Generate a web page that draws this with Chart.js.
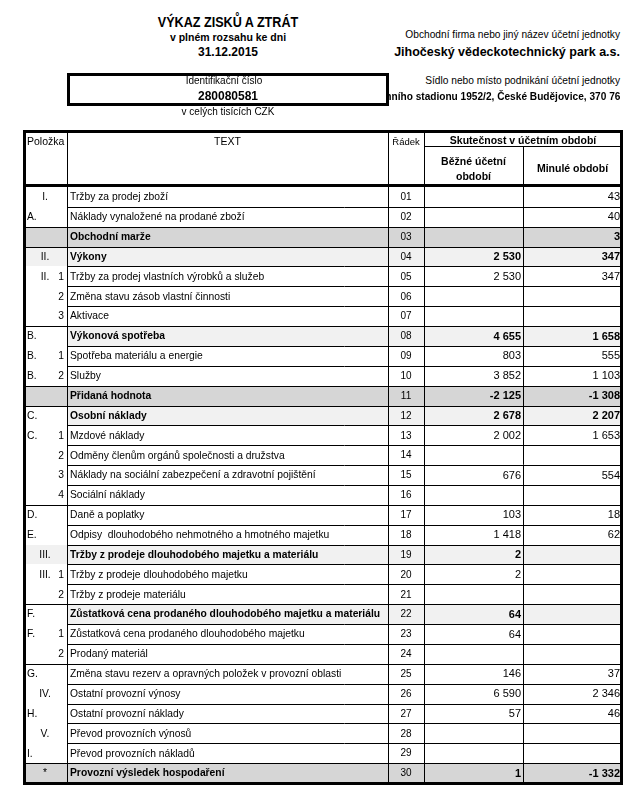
<!DOCTYPE html>
<html lang="cs">
<head>
<meta charset="utf-8">
<title>Výkaz zisků a ztrát</title>
<script src="https://cdn.jsdelivr.net/npm/chart.js@4.4.0/dist/chart.umd.min.js"></script>
<style>
    html, body { margin: 0; padding: 0; background: #fff; }
    body { width: 644px; height: 808px; position: relative; overflow: hidden;
           font-family: "Liberation Sans", Arial, sans-serif; color: #000; }
    #vykaz { position: absolute; left: 0; top: 0; z-index: 0; }
    .t { position: absolute; white-space: nowrap; line-height: 1; }
    .left { left: 0; width: 456px; text-align: center; }
    .right { right: 24px; text-align: right; transform-origin: right center; }
    .b { font-weight: bold; }
    #icoBox { position: absolute; left: 67px; top: 73px; width: 316px; height: 27px;
              border: 3px solid #000; background: #fff; z-index: 2; }
</style>
</head>
<body>

<div class="t left b" style="top:15px;font-size:14px;transform:scaleX(0.9);">VÝKAZ ZISKŮ A ZTRÁT</div>
<div class="t left b" style="top:32px;font-size:10.5px;">v plném rozsahu ke dni</div>
<div class="t left b" style="top:46px;font-size:12px;">31.12.2015</div>

<div class="t right" style="top:30px;font-size:10.2px;">Obchodní firma nebo jiný název účetní jednotky</div>
<div class="t right b" style="top:46px;font-size:12.5px;">Jihočeský vědeckotechnický park a.s.</div>
<div class="t right" style="top:76px;font-size:10.2px;">Sídlo nebo místo podnikání účetní jednotky</div>
<div class="t right b" style="top:91px;font-size:11px;z-index:1;transform:scaleX(0.92);">U Zimního stadionu 1952/2, České Budějovice, 370 76</div>

<div id="icoBox"></div>
<div class="t left" style="top:76px;font-size:10px;z-index:3;left:-4px;">Identifikační číslo</div>
<div class="t left b" style="top:90px;font-size:12px;z-index:3;">280080581</div>
<div class="t left" style="top:107px;font-size:10px;z-index:3;">v celých tisících CZK</div>

<canvas id="vykaz" width="644" height="808"></canvas>

<script>
// ---- data read from the statement ----
const rowCodes = ['01', '02', '03', '04', '05', '06', '07', '08', '09', '10',
    '11', '12', '13', '14', '15', '16', '17', '18', '19', '20',
    '21', '22', '23', '24', '25', '26', '27', '28', '29', '30'];

const letterCodes = ['', 'A.', '', '', '', '', '', 'B.', 'B.', 'B.',
    '', 'C.', 'C.', '', '', '', 'D.', 'E.', '', '',
    '', 'F.', 'F.', '', 'G.', '', 'H.', '', 'I.', ''];

const romanCodes = ['I.', '', '', 'II.', 'II.', '', '', '', '', '',
    '', '', '', '', '', '', '', '', 'III.', 'III.',
    '', '', '', '', '', 'IV.', '', 'V.', '', '*'];

const subCodes = ['', '', '', '', '1', '2', '3', '', '1', '2',
    '', '', '1', '2', '3', '4', '', '', '', '1',
    '2', '', '1', '2', '', '', '', '', '', ''];

const rowTexts = [
    'Tržby za prodej zboží',
    'Náklady vynaložené na prodané zboží',
    'Obchodní marže',
    'Výkony',
    'Tržby za prodej vlastních výrobků a služeb',
    'Změna stavu zásob vlastní činnosti',
    'Aktivace',
    'Výkonová spotřeba',
    'Spotřeba materiálu a energie',
    'Služby',
    'Přidaná hodnota',
    'Osobní náklady',
    'Mzdové náklady',
    'Odměny členům orgánů společnosti a družstva',
    'Náklady na sociální zabezpečení a zdravotní pojištění',
    'Sociální náklady',
    'Daně a poplatky',
    'Odpisy  dlouhodobého nehmotného a hmotného majetku',
    'Tržby z prodeje dlouhodobého majetku a materiálu',
    'Tržby z prodeje dlouhodobého majetku',
    'Tržby z prodeje materiálu',
    'Zůstatková cena prodaného dlouhodobého majetku a materiálu',
    'Zůstatková cena prodaného dlouhodobého majetku',
    'Prodaný materiál',
    'Změna stavu rezerv a opravných položek v provozní oblasti',
    'Ostatní provozní výnosy',
    'Ostatní provozní náklady',
    'Převod provozních výnosů',
    'Převod provozních nákladů',
    'Provozní výsledek hospodaření'
];

// 'total' = result row, 'group' = group heading row
const rowKinds = ['', '', 'total', 'group', '', '', '', 'group', '', '',
    'total', 'group', '', '', '', '', '', '', 'group', '',
    '', 'group', '', '', '', '', '', '', '', 'total'];

// thousands of CZK
const currentPeriod = [null, null, null, 2530, 2530, null, null, 4655, 803, 3852,
    -2125, 2678, 2002, null, 676, null, 103, 1418, 2, 2,
    null, 64, 64, null, 146, 6590, 57, null, null, 1];

const previousPeriod = [43, 40, 3, 347, 347, null, null, 1658, 555, 1103,
    -1308, 2207, 1653, null, 554, null, 18, 62, null, null,
    null, null, null, null, 37, 2346, 46, null, null, -1332];

const headerLabels = {
    polozka: 'Položka',
    text: 'TEXT',
    radek: 'Řádek',
    period: 'Skutečnost v účetním období',
    current: ['Běžné účetní', 'období'],
    previous: 'Minulé období'
};

// ---- layout (page pixels) ----
const TABLE_TOP = 131;
const HEAD_SPLIT = 146;
const COL = { left: 24, text: 67, radek: 388, current: 424, previous: 523, right: 622 };
const FONT = '"Liberation Sans", Arial, sans-serif';
const DARK_FILL = '#d6d6d6';
const LIGHT_FILL = '#f1f1f1';

function formatCzk(v) {
    const s = String(Math.abs(v)).replace(/\B(?=(\d{3})+(?!\d))/g, ' ');
    return (v < 0 ? '-' : '') + s;
}

function toPoints(values, colRight) {
    const pts = [];
    values.forEach(function (v, i) {
        if (v !== null) pts.push({ x: colRight, y: rowCodes[i], v: v, row: i });
    });
    return pts;
}

const tablePlugin = {
    id: 'vykazTable',
    beforeDatasetsDraw: function (chart) {
        const ctx = chart.ctx;
        const yScale = chart.scales.y;
        const xScale = chart.scales.x;
        const area = chart.chartArea;
        const bandH = yScale.getPixelForValue(1) - yScale.getPixelForValue(0);
        const xL = xScale.getPixelForValue(COL.left);
        const xT = xScale.getPixelForValue(COL.text);
        const xR = xScale.getPixelForValue(COL.right);
        const xRad = xScale.getPixelForValue(COL.radek);
        const xCur = xScale.getPixelForValue(COL.current);
        const xPr = xScale.getPixelForValue(COL.previous);

        ctx.save();

        // row shading
        rowCodes.forEach(function (code, i) {
            const yc = yScale.getPixelForValue(i);
            const top = Math.round(yc - bandH / 2);
            const bot = Math.round(yc + bandH / 2);
            if (rowKinds[i] === 'total') {
                ctx.fillStyle = DARK_FILL;
                ctx.fillRect(xL, top, xR - xL, bot - top);
            } else if (rowKinds[i] === 'group') {
                ctx.fillStyle = LIGHT_FILL;
                const from = romanCodes[i] ? xL : xT;
                ctx.fillRect(from, top, xR - from, bot - top);
            }
        });

        // horizontal row lines
        ctx.strokeStyle = '#000';
        ctx.lineWidth = 1;
        for (let i = 1; i < rowCodes.length; i++) {
            const y = Math.round(yScale.getPixelForValue(i) - bandH / 2) + 0.5;
            const full = rowKinds[i] === 'total' || rowKinds[i - 1] === 'total' ||
                (letterCodes[i] && !letterCodes[i - 1] && !romanCodes[i - 1] && subCodes[i - 1]);
            ctx.beginPath();
            ctx.moveTo(full ? xL : xT, y);
            ctx.lineTo(xR, y);
            ctx.stroke();
        }

        // vertical column lines
        [xT, xRad, xCur].forEach(function (c) {
            const x = Math.round(c) + 0.5;
            ctx.beginPath();
            ctx.moveTo(x, TABLE_TOP);
            ctx.lineTo(x, area.bottom);
            ctx.stroke();
        });
        ctx.beginPath();
        ctx.moveTo(Math.round(xPr) + 0.5, HEAD_SPLIT + 0.5);
        ctx.lineTo(Math.round(xPr) + 0.5, area.bottom);
        ctx.stroke();
        ctx.beginPath();
        ctx.moveTo(xCur, HEAD_SPLIT + 0.5);
        ctx.lineTo(xR, HEAD_SPLIT + 0.5);
        ctx.stroke();

        // thick frame + header rule
        ctx.lineWidth = 3;
        ctx.strokeRect(xL + 0.5, TABLE_TOP + 0.5, xR - xL - 1, area.bottom - TABLE_TOP);
        ctx.beginPath();
        ctx.moveTo(xL, area.top - 1.5);
        ctx.lineTo(xR, area.top - 1.5);
        ctx.stroke();

        // header texts
        ctx.fillStyle = '#000';
        ctx.textBaseline = 'middle';
        ctx.font = '10.5px ' + FONT;
        ctx.textAlign = 'left';
        ctx.fillText(headerLabels.polozka, xL + 3, 142);
        ctx.textAlign = 'center';
        ctx.font = '10.5px ' + FONT;
        ctx.fillText(headerLabels.text, (xT + xRad) / 2, 142);
        ctx.font = '9.5px ' + FONT;
        ctx.fillText(headerLabels.radek, (xRad + xCur) / 2, 142);
        ctx.font = 'bold 10.5px ' + FONT;
        ctx.fillText(headerLabels.period, (xCur + xR) / 2, 141);
        ctx.fillText(headerLabels.current[0], (xCur + xPr) / 2, 162);
        ctx.fillText(headerLabels.current[1], (xCur + xPr) / 2, 177);
        ctx.fillText(headerLabels.previous, (xPr + xR) / 2, 169);

        // row labels
        rowCodes.forEach(function (code, i) {
            const y = yScale.getPixelForValue(i) + 0.5;
            const bold = rowKinds[i] !== '';
            ctx.font = '10.3px ' + FONT;
            if (letterCodes[i]) {
                ctx.textAlign = 'left';
                ctx.fillText(letterCodes[i], xL + 3, y);
            }
            if (romanCodes[i]) {
                ctx.textAlign = 'center';
                ctx.fillText(romanCodes[i], xL + 21, y);
            }
            if (subCodes[i]) {
                ctx.textAlign = 'right';
                ctx.fillText(subCodes[i], xT - 3, y);
            }
            ctx.textAlign = 'left';
            ctx.font = (bold ? 'bold ' : '') + '10.3px ' + FONT;
            ctx.fillText(rowTexts[i], xT + 3, y);
            ctx.textAlign = 'center';
            ctx.font = '10px ' + FONT;
            ctx.fillText(code, (xRad + xCur) / 2, y);
        });

        ctx.restore();
    },
    afterDatasetsDraw: function (chart) {
        const ctx = chart.ctx;
        ctx.save();
        ctx.fillStyle = '#000';
        ctx.textAlign = 'right';
        ctx.textBaseline = 'middle';
        chart.data.datasets.forEach(function (ds, di) {
            const meta = chart.getDatasetMeta(di);
            meta.data.forEach(function (pt, j) {
                const d = ds.data[j];
                const bold = rowKinds[d.row] !== '';
                ctx.font = (bold ? 'bold ' : '') + '11px ' + FONT;
                ctx.fillText(formatCzk(d.v), pt.x - 2, pt.y + 0.5);
            });
        });
        ctx.restore();
    }
};

document.addEventListener("DOMContentLoaded", function () {
    const el = document.getElementById("vykaz");

    new Chart(el, {
        type: 'scatter',
        data: {
            labels: rowCodes,
            datasets: [{
                label: 'Běžné účetní období',
                data: toPoints(currentPeriod, COL.previous),
                pointRadius: 0,
                pointHoverRadius: 0
            }, {
                label: 'Minulé období',
                data: toPoints(previousPeriod, COL.right),
                pointRadius: 0,
                pointHoverRadius: 0
            }]
        },
        options: {
            responsive: false,
            devicePixelRatio: 1,
            animation: false,
            events: [],
            layout: {
                padding: { left: COL.left, right: 644 - COL.right, top: 187, bottom: 25 }
            },
            plugins: {
                legend: { display: false },
                tooltip: { enabled: false }
            },
            scales: {
                x: { type: 'linear', min: COL.left, max: COL.right, display: false },
                y: { type: 'category', labels: rowCodes, offset: true, display: false }
            }
        },
        plugins: [tablePlugin]
    });
});
</script>
</body>
</html>
